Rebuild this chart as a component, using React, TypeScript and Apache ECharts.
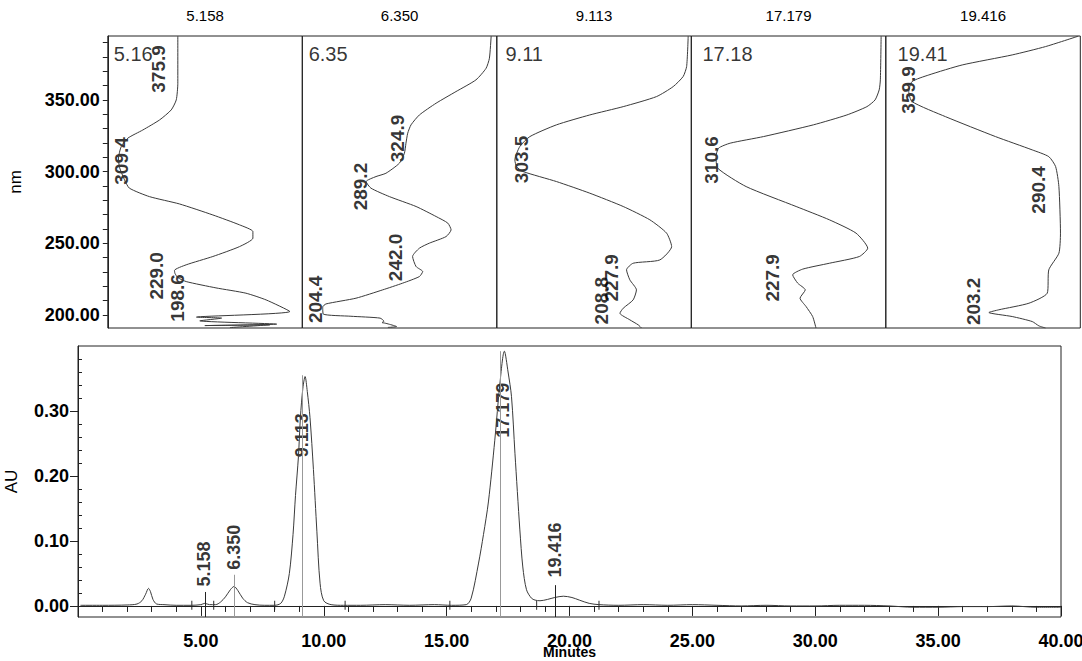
import React, { useEffect, useRef } from "react";
import * as echarts from "echarts";

// ---------- Top: UV spectra (absorbance fraction, wavelength nm) ----------
const panelTitles = ["5.158", "6.350", "9.113", "17.179", "19.416"];
const panelTags = ["5.16", "6.35", "9.11", "17.18", "19.41"];
const tagFrac = [0.028, 0.03, 0.042, 0.055, 0.058];
const tagNm = 382;

const spectrum1 = [
  [0.36, 394.5], [0.36, 361.6], [0.352, 350], [0.326, 343], [0.266, 336], [0.18, 329],
  [0.103, 323.3], [0.069, 317.4], [0.055, 309.4], [0.06, 303], [0.086, 294.2], [0.111, 288.4],
  [0.214, 282.5], [0.368, 277.4], [0.54, 269.7], [0.677, 262.8], [0.746, 258.1], [0.746, 253.5],
  [0.677, 247.6], [0.54, 240.7], [0.403, 234.9], [0.343, 231], [0.345, 229], [0.36, 226],
  [0.403, 223.2], [0.556, 218.8], [0.71, 215.1], [0.814, 210.4], [0.936, 202.3], [0.456, 198.4],
  [0.585, 197.7], [0.473, 195.8], [0.868, 193.5], [0.499, 192.5], [0.833, 193], [0.628, 191.1],
];
const spectrum2 = [
  [0.971, 394.5], [0.962, 379.1], [0.945, 372.1], [0.893, 364], [0.79, 355.8], [0.688, 347.7],
  [0.602, 339.5], [0.559, 332.6], [0.542, 326.8], [0.533, 319.8], [0.525, 312.8], [0.499, 305.8],
  [0.43, 298.8], [0.379, 296.5], [0.328, 293], [0.353, 288.4], [0.448, 282.5], [0.585, 275.6],
  [0.688, 268.6], [0.748, 264], [0.765, 259.3], [0.739, 254.6], [0.653, 250], [0.602, 246.5],
  [0.567, 240.7], [0.585, 233.7], [0.619, 230.2], [0.602, 226.7], [0.516, 222.1], [0.413, 217.4],
  [0.276, 211.6], [0.122, 207.6], [0.105, 205.5], [0.108, 200.5], [0.25, 199], [0.4, 197.7],
  [0.42, 195.5], [0.41, 194.6], [0.425, 194.2], [0.445, 193.5], [0.485, 191.8], [0.44, 191.2],
];
const spectrum3 = [
  [0.984, 394.5], [0.976, 373.3], [0.958, 366.3], [0.907, 359.3], [0.821, 352.3], [0.65, 345.3],
  [0.478, 339.5], [0.307, 332.6], [0.17, 324.4], [0.118, 317.4], [0.093, 308.1], [0.101, 303.5],
  [0.135, 300], [0.307, 293], [0.478, 284.9], [0.65, 275.6], [0.787, 266.3], [0.873, 257],
  [0.899, 247.6], [0.838, 238.3], [0.701, 236], [0.667, 231.4], [0.684, 224.4], [0.718, 217.4],
  [0.701, 210.4], [0.65, 204.6], [0.633, 201.1], [0.684, 196.5], [0.727, 193], [0.744, 190.8],
];
const spectrum4 = [
  [0.976, 394.5], [0.972, 364], [0.966, 357], [0.945, 350], [0.903, 345.3], [0.8, 339.5],
  [0.628, 332.6], [0.371, 324.4], [0.2, 319.8], [0.14, 316.3], [0.127, 310.4], [0.136, 302.3],
  [0.282, 289.5], [0.539, 275.6], [0.71, 266.3], [0.847, 257], [0.907, 246.5], [0.864, 240.7],
  [0.71, 236], [0.573, 231.9], [0.521, 227.9], [0.547, 222.1], [0.586, 217.4], [0.559, 211.6],
  [0.59, 205.8], [0.624, 198.8], [0.641, 190.8],
];
const spectrum5 = [
  [0.99, 394.5], [0.821, 387.2], [0.65, 381.4], [0.393, 374.4], [0.221, 367.4], [0.135, 362.8],
  [0.118, 355.8], [0.135, 348.8], [0.307, 338.3], [0.564, 324.4], [0.753, 315.1], [0.838, 310.4],
  [0.873, 303.5], [0.89, 289.5], [0.898, 257], [0.89, 243], [0.838, 231.4], [0.83, 215.1],
  [0.736, 208.1], [0.581, 203.5], [0.53, 201.6], [0.65, 198.8], [0.753, 195.3], [0.787, 192.3],
  [0.821, 190.8],
];
const spectra = [spectrum1, spectrum2, spectrum3, spectrum4, spectrum5];

const labels1 = [[0.26, 371.6, "375.9"], [0.07, 307.4, "309.4"], [0.25, 227.2, "229.0"], [0.36, 211.8, "198.6"]];
const labels2 = [[0.49, 323.1, "324.9"], [0.3, 289.5, "289.2"], [0.48, 240.1, "242.0"], [0.07, 210.8, "204.4"]];
const labels3 = [[0.128, 308.5, "303.5"], [0.539, 209.9, "208.8"], [0.591, 225.8, "227.9"]];
const labels4 = [[0.105, 308.1, "310.6"], [0.418, 225.8, "227.9"]];
const labels5 = [[0.115, 357, "359.9"], [0.784, 287.2, "290.4"], [0.45, 209.4, "203.2"]];
const spectrumLabels = [labels1, labels2, labels3, labels4, labels5];

const nmMin = 190.8;
const nmMax = 394.6;
const nmTicks = [200, 210, 220, 230, 240, 250, 260, 270, 280, 290, 300, 310, 320, 330, 340, 350, 360, 370, 380, 390];
const nmLabels = [200, 250, 300, 350];

// ---------- Bottom: chromatogram (minutes, AU) ----------
const chromatogram = [
  [0.1, 0.001], [1.0, 0.001], [2.0, 0.0015], [2.4, 0.003], [2.6, 0.008], [2.75, 0.018], [2.87, 0.027],
  [2.95, 0.022], [3.05, 0.01], [3.2, 0.003], [3.5, 0.002], [4.0, 0.001], [4.6, 0.001], [5.0, 0.002],
  [5.16, 0.004], [5.35, 0.002], [5.6, 0.002], [5.8, 0.006], [6.0, 0.014], [6.2, 0.025], [6.35, 0.03],
  [6.5, 0.024], [6.7, 0.012], [6.9, 0.005], [7.2, 0.002], [7.6, 0.001], [8.0, 0.001], [8.25, 0.004],
  [8.4, 0.015], [8.6, 0.05], [8.75, 0.11], [8.85, 0.17], [8.97, 0.23], [9.05, 0.29], [9.15, 0.335],
  [9.24, 0.353], [9.33, 0.33], [9.44, 0.29], [9.58, 0.21], [9.72, 0.115], [9.85, 0.035], [10.0, 0.008],
  [10.3, 0.002], [10.8, 0.001], [11.5, 0.001], [12.5, 0.002], [13.5, 0.001], [14.5, 0.002], [15.2, 0.001],
  [15.8, 0.002], [16.0, 0.012], [16.3, 0.066], [16.5, 0.11], [16.7, 0.16], [16.96, 0.255], [17.17, 0.343],
  [17.35, 0.392], [17.5, 0.36], [17.64, 0.322], [17.78, 0.235], [17.98, 0.117], [18.1, 0.06], [18.25, 0.025],
  [18.45, 0.012], [18.6, 0.009], [18.8, 0.008], [19.1, 0.01], [19.4, 0.013], [19.75, 0.015], [20.1, 0.013],
  [20.4, 0.009], [20.8, 0.004], [21.2, 0.002], [22, 0.001], [23, 0.002], [24, 0.001], [25, 0.002],
  [26, 0.001], [27, 0], [28, 0.001], [29, 0], [30, 0], [31, 0.001], [32, 0.001], [33, 0], [34, -0.002],
  [35, -0.002], [36, -0.001], [37, -0.001], [38, 0], [39, -0.002], [40, -0.002],
];
const peakNames = ["5.158", "6.350", "9.113", "17.179", "19.416"];
const peakTimes = [5.158, 6.35, 9.113, 17.179, 19.416];
const peakMarkerTop = [0.0215, 0.048, 0.355, 0.392, 0.032];
const peakMarkerDark = [true, false, false, false, true];
const peakLabelX = [5.12, 6.34, 9.1, 17.3, 19.43];
const peakLabelBase = [0.029, 0.055, 0.228, 0.258, 0.043];
const integrationTimes = [4.63, 5.52, 8.0, 10.87, 15.13, 18.66, 21.2];

const auMin = -0.017;
const auMax = 0.4;
const auLabels = [0, 0.1, 0.2, 0.3];
const auMinorTicks = [0.02, 0.04, 0.06, 0.08, 0.12, 0.14, 0.16, 0.18, 0.22, 0.24, 0.26, 0.28, 0.32, 0.34, 0.36, 0.38];

const FONT = "'Liberation Sans', Arial, sans-serif";
const INK = "#000";

export default function App() {
  const ref = useRef<HTMLDivElement>(null);

  useEffect(() => {
    if (!ref.current) return;
    const chart = echarts.init(ref.current, null, { renderer: "svg" });

    const panelLeft0 = 107.8;
    const panelW = 194.5;
    const grids: any[] = [];
    for (let i = 0; i < 5; i++) {
      grids.push({
        left: panelLeft0 + i * panelW, top: 36, width: panelW, height: 292,
        show: true, borderColor: "#222", borderWidth: 1, backgroundColor: "transparent",
        containLabel: false, outerBoundsMode: "none",
      });
    }
    grids.push({
      left: 78, top: 346, width: 983, height: 271,
      show: true, borderColor: "#222", borderWidth: 1, backgroundColor: "transparent",
      containLabel: false, outerBoundsMode: "none",
    });

    const xAxes: any[] = [];
    const yAxes: any[] = [];
    for (let i = 0; i < 5; i++) {
      xAxes.push({
        gridIndex: i, type: "value", min: 0, max: 1, position: "top",
        axisLine: { show: false }, axisTick: { show: false }, axisLabel: { show: false },
        splitLine: { show: false },
        name: panelTitles[i], nameLocation: "middle", nameGap: 13, nameMoveOverlap: false,
        nameTextStyle: { fontSize: 15, color: INK, fontFamily: FONT },
      });
      yAxes.push({
        gridIndex: i, type: "value", min: nmMin, max: nmMax,
        axisLine: { show: i === 0, lineStyle: { color: "#222" } },
        axisTick: { show: i === 0, customValues: nmTicks, length: 5, lineStyle: { color: "#222" } },
        axisLabel: {
          show: i === 0, customValues: nmLabels, margin: 8,
          formatter: (v: number) => v.toFixed(2),
          fontSize: 18, fontWeight: "bold", color: INK, fontFamily: FONT,
        },
        splitLine: { show: false },
        name: i === 0 ? "nm" : "", nameLocation: "middle", nameGap: 84, nameMoveOverlap: false,
        nameTextStyle: { fontSize: 17, color: INK, fontFamily: FONT },
      });
    }
    // bottom x axes (major with labels, minor ticks)
    xAxes.push({
      gridIndex: 5, type: "value", min: 0, max: 40, interval: 5, position: "bottom",
      axisLine: { show: true, lineStyle: { color: "#222" } },
      axisTick: { show: true, length: 10, lineStyle: { color: "#222" } },
      axisLabel: {
        margin: 15, fontSize: 18, fontWeight: "bold", color: INK, fontFamily: FONT,
        formatter: (v: number) => (v === 0 ? "" : v.toFixed(2)),
      },
      splitLine: { show: false },
      name: "Minutes", nameLocation: "middle", nameGap: 28, nameMoveOverlap: false,
      nameTextStyle: { fontSize: 14, fontWeight: "bold", color: INK, fontFamily: FONT },
    });
    xAxes.push({
      gridIndex: 5, type: "value", min: 0, max: 40, interval: 1, position: "bottom",
      axisLine: { show: false }, axisTick: { show: true, length: 6, lineStyle: { color: "#222" } },
      axisLabel: { show: false }, splitLine: { show: false },
    });
    yAxes.push({
      gridIndex: 5, type: "value", min: auMin, max: auMax,
      axisLine: { show: true, lineStyle: { color: "#222" } },
      axisTick: { show: true, customValues: auLabels, length: 8, lineStyle: { color: "#222" } },
      axisLabel: {
        customValues: auLabels, margin: 9, fontSize: 18, fontWeight: "bold", color: INK, fontFamily: FONT,
        formatter: (v: number) => v.toFixed(2),
      },
      splitLine: { show: false },
      name: "AU", nameLocation: "middle", nameGap: 58, nameMoveOverlap: false,
      nameTextStyle: { fontSize: 17, color: INK, fontFamily: FONT },
    });
    yAxes.push({
      gridIndex: 5, type: "value", min: auMin, max: auMax,
      axisLine: { show: false },
      axisTick: { show: true, customValues: auMinorTicks, length: 4, lineStyle: { color: "#222" } },
      axisLabel: { show: false }, splitLine: { show: false },
    });

    const series: any[] = [];
    for (let i = 0; i < 5; i++) {
      series.push({
        type: "line", xAxisIndex: i, yAxisIndex: i, data: spectra[i],
        showSymbol: false, symbol: "none", smooth: 0.2,
        lineStyle: { color: "#3a3a3a", width: 1 }, silent: true,
      });
      series.push({
        type: "scatter", xAxisIndex: i, yAxisIndex: i, data: spectrumLabels[i],
        symbol: "circle", symbolSize: 1, itemStyle: { color: "transparent" }, silent: true,
        label: {
          show: true, position: "inside", rotate: 90, align: "center", verticalAlign: "middle",
          formatter: (p: any) => p.data[2],
          fontSize: 19, fontWeight: "bold", color: INK, fontFamily: FONT,
        },
      });
      series.push({
        type: "scatter", xAxisIndex: i, yAxisIndex: i, data: [[tagFrac[i], tagNm, panelTags[i]]],
        symbol: "circle", symbolSize: 1, itemStyle: { color: "transparent" }, silent: true,
        label: {
          show: true, position: "right", distance: 0, align: "left", verticalAlign: "middle",
          formatter: (p: any) => p.data[2],
          fontSize: 20, color: INK, fontFamily: FONT,
        },
      });
    }

    series.push({
      type: "line", xAxisIndex: 5, yAxisIndex: 5, data: chromatogram,
      showSymbol: false, symbol: "none", smooth: 0.3,
      lineStyle: { color: "#3a3a3a", width: 1 }, silent: true,
      markLine: {
        silent: true, symbol: ["none", "none"], label: { show: false }, animation: false,
        data: peakTimes.map((t, k) => [
          { coord: [t, auMin], lineStyle: { color: peakMarkerDark[k] ? "#222" : "#999", width: 1, type: "solid" } },
          { coord: [t, peakMarkerTop[k]] },
        ]),
      },
    });
    series.push({
      type: "scatter", xAxisIndex: 5, yAxisIndex: 5,
      data: integrationTimes.map((t) => [t, 0.001]),
      symbol: "rect", symbolSize: [1.2, 9], itemStyle: { color: "#222" }, silent: true,
    });
    series.push({
      type: "scatter", xAxisIndex: 5, yAxisIndex: 5,
      data: peakNames.map((n, k) => [peakLabelX[k], peakLabelBase[k], n]),
      symbol: "circle", symbolSize: 1, itemStyle: { color: "transparent" }, silent: true,
      label: {
        show: true, position: "top", distance: 0, rotate: 90, align: "left", verticalAlign: "middle",
        formatter: (p: any) => p.data[2],
        fontSize: 18, fontWeight: "bold", color: INK, fontFamily: FONT,
      },
    });

    chart.setOption({
      animation: false,
      backgroundColor: "#ffffff",
      textStyle: { fontFamily: FONT },
      grid: grids,
      xAxis: xAxes,
      yAxis: yAxes,
      series,
    });

    return () => chart.dispose();
  }, []);

  return (
    <div
      ref={ref}
      style={{ position: "fixed", left: 0, top: 0, width: 1082, height: 661, background: "#fff" }}
    />
  );
}
